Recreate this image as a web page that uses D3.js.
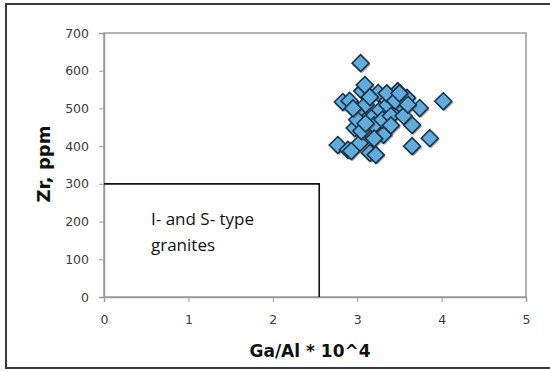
<!DOCTYPE html>
<html><head><meta charset="utf-8">
<script src="https://cdn.jsdelivr.net/npm/d3@7"></script>
<style>body{margin:0;background:#fff}svg{display:block}</style>
</head><body>
<script>
const xVals = [3.04,4.02,3.86,3.65,3.74,3.65,3.59,3.48,3.45,3.53,2.77,2.89,3.15,2.83,3.06,3.09,3.25,3.01,3.17,3.15,2.97,3.03,3.31,3.27,3.36,2.91,3.00,3.10,3.20,3.30,3.40,3.35,3.45,3.55,3.60,3.15,3.05,3.20,3.10,2.95,3.50,3.40,3.22,2.93];
const yVals = [620,519,421,400,501,456,528,546,493,506,403,390,382,517,546,562,541,493,475,435,448,408,430,496,509,520,470,510,455,470,480,540,520,480,510,530,440,420,460,500,540,455,377,387];
const xTicks = [0,1,2,3,4,5];
const yTicks = [0,100,200,300,400,500,600,700];
const boxCorner = {x:2.55, y:300};
const boxLabel = ["I- and S- type","granites"];

const W=550,H=372;
const svg=d3.select("body").append("svg").attr("width",W).attr("height",H);
const m={l:104,r:526,t:33,b:297};
const x=d3.scaleLinear().domain([0,5]).range([m.l,m.r]);
const y=d3.scaleLinear().domain([0,700]).range([m.b,m.t]);

// outer border
svg.append("rect").attr("x",6).attr("y",4).attr("width",560).attr("height",364)
  .attr("fill","none").attr("stroke","#3a3a3a").attr("stroke-width",2);

// plot area frame
svg.append("rect").attr("x",m.l).attr("y",m.t).attr("width",m.r-m.l).attr("height",m.b-m.t)
  .attr("fill","none").attr("stroke","#9a9a9a").attr("stroke-width",1.5);

const ax=svg.append("g").attr("transform",`translate(0,${m.b})`)
  .call(d3.axisBottom(x).tickValues(xTicks).tickSize(5).tickPadding(13).tickFormat(d3.format("d")));
const ay=svg.append("g").attr("transform",`translate(${m.l},0)`)
  .call(d3.axisLeft(y).tickValues(yTicks).tickSize(5).tickPadding(10).tickFormat(d3.format("d")));
[ax,ay].forEach(a=>{
  a.select(".domain").attr("stroke","#9a9a9a").attr("stroke-width",1.5);
  a.selectAll(".tick line").attr("stroke","#9a9a9a");
  a.selectAll("text").attr("font-family","DejaVu Sans, Verdana, sans-serif").attr("font-size",12.5).attr("fill","#3a3a3a");
});

// granite field box
svg.append("path")
  .attr("d",`M${x(0)},${y(boxCorner.y)}H${x(boxCorner.x)}V${y(0)}`)
  .attr("fill","none").attr("stroke","#111").attr("stroke-width",1.6);
const lt=svg.append("text").attr("font-family","Open Sans, Liberation Sans, sans-serif")
  .attr("font-size",17).attr("fill","#111");
boxLabel.forEach((s,i)=>lt.append("tspan").attr("x",151).attr("y",225+i*26).text(s));

// markers
const r=8.5;
const dpath=(cx,cy)=>`M${cx},${cy-r}L${cx+r},${cy}L${cx},${cy+r}L${cx-r},${cy}Z`;
const pts=xVals.map((v,i)=>({x:v,y:yVals[i]}));
const g=svg.append("g");
pts.forEach(p=>{
  const cx=x(p.x),cy=y(p.y);
  g.append("path").attr("d",dpath(cx+1.5,cy+1.5)).attr("fill","#555").attr("opacity",0.55);
  g.append("path").attr("d",dpath(cx,cy)).attr("fill","#62acdc").attr("stroke","#17324a").attr("stroke-width",1.6);
});

// axis titles
svg.append("text").attr("x",310).attr("y",357).attr("text-anchor","middle")
  .attr("font-family","DejaVu Sans, Verdana, sans-serif").attr("font-weight","bold").attr("font-size",17)
  .attr("fill","#111").text("Ga/Al * 10^4");
svg.append("text").attr("transform",`translate(50,164) rotate(-90)`).attr("text-anchor","middle")
  .attr("font-family","DejaVu Sans, Verdana, sans-serif").attr("font-weight","bold").attr("font-size",18)
  .attr("fill","#111").text("Zr, ppm");
</script>
</body></html>
